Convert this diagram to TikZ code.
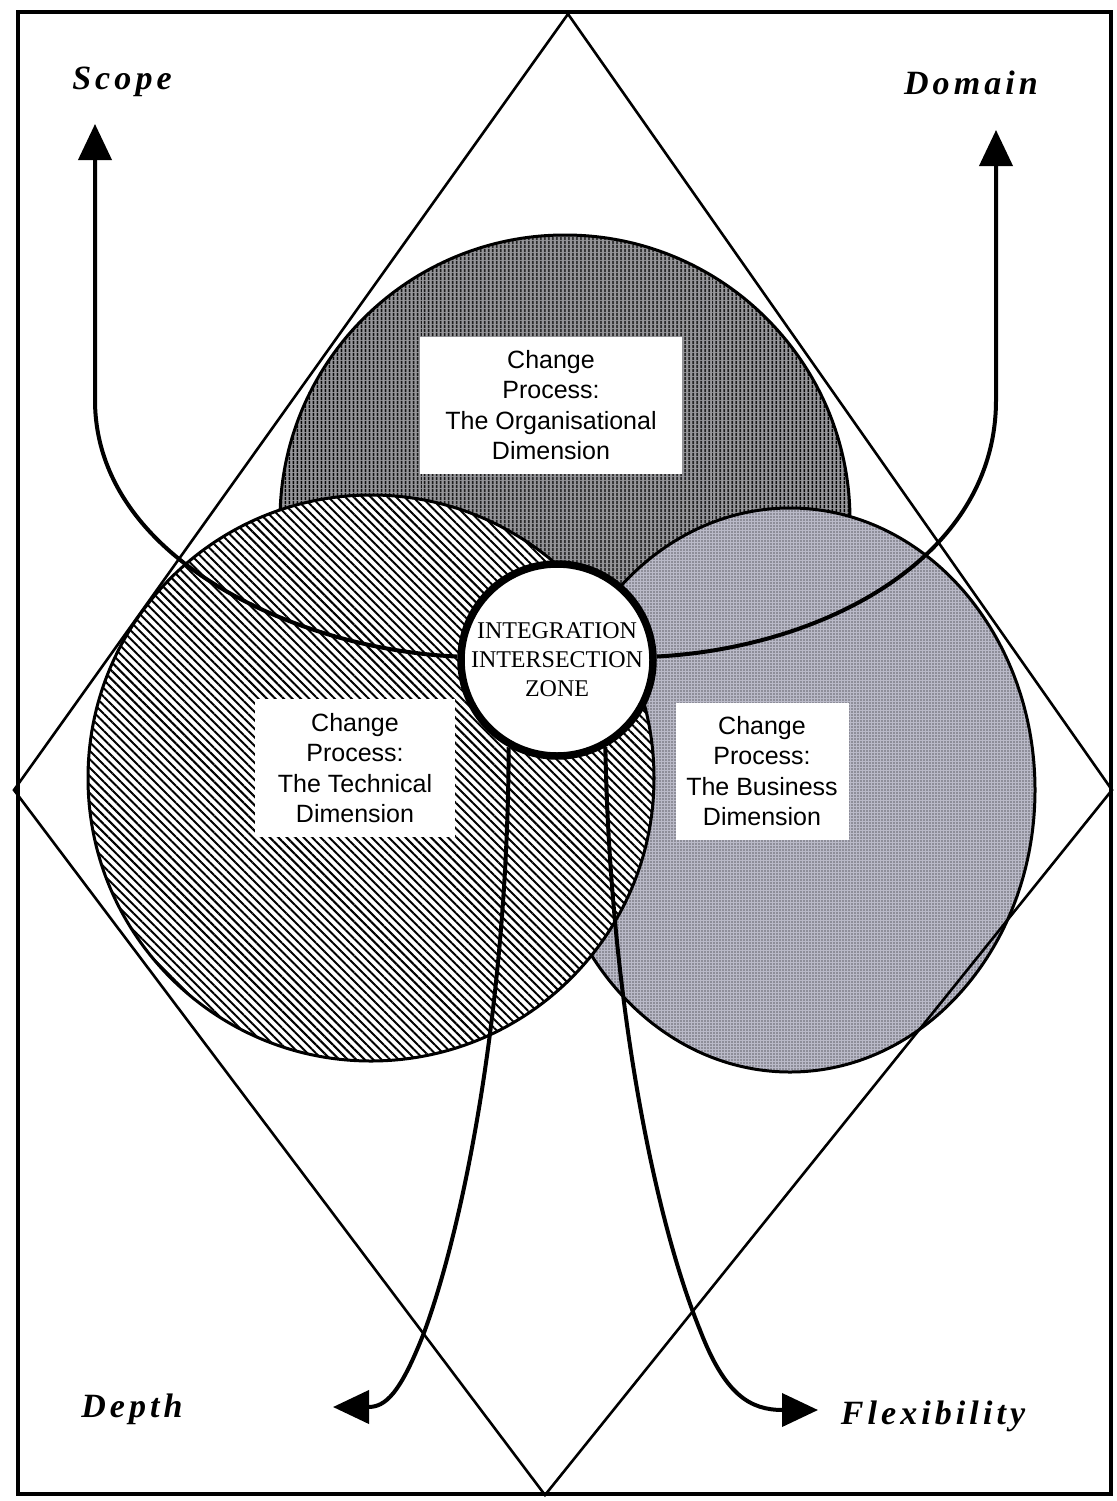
\documentclass[tikz,border=0pt]{standalone}
\usepackage{fontspec}
\setmainfont{Liberation Serif}
\setsansfont{Liberation Sans}
\newfontfamily\axisfont[LetterSpace=12]{Liberation Serif}
\usetikzlibrary{arrows.meta,patterns.meta}

\definecolor{screen}{RGB}{186,186,200}
\definecolor{orgbase}{RGB}{150,150,154}

\tikzset{
  frame/.style={line width=4pt},
  diamondline/.style={line width=2.6pt, line join=miter},
  ring/.style={line width=3pt},
  orgfill/.style={preaction={fill=orgbase},
    pattern={Lines[angle=90,distance=4pt,line width=2pt]}},
  techfill/.style={preaction={fill=white},
    pattern={Lines[angle=-45,distance=6pt,line width=2pt]}},
  busfill/.style={preaction={fill=screen},
    pattern={Dots[distance=3pt,radius=0.65pt]}},
  labelbox/.style={fill=white, inner sep=0pt, align=center,
    font=\sffamily\fontsize{25}{30.5}\selectfont},
  axislabel/.style={anchor=base, inner sep=0pt,
    font=\axisfont\bfseries\itshape\fontsize{34}{38}\selectfont},
  flow/.style={line width=4pt, -{Triangle[length=36pt,width=33pt]}},
  zone/.style={circle, draw, line width=7.5pt, fill=white, minimum size=192pt,
    inner sep=0pt, align=center, font=\fontsize{24}{29}\selectfont}
}

\begin{document}
\begin{tikzpicture}[x=1pt,y=-1pt]
\useasboundingbox (0,0) rectangle (1116,1501);

% outer frame
\draw[frame] (18,12) rectangle (1111,1494);

% the three overlapping dimensions
\path[orgfill] (565,520) circle[radius=285];
\draw[ring] (565,520) circle[radius=285];
\path[busfill] (790,790) ellipse[x radius=245, y radius=282];
\draw[ring] (790,790) ellipse[x radius=245, y radius=282];
\path[techfill] (371,778) circle[radius=283];
\draw[ring] (371,778) circle[radius=283];

% diamond
\draw[diamondline] (568,14) -- (1112,790) -- (545,1495) -- (14,790) -- cycle;

% dimension labels
\node[labelbox, minimum width=262pt, minimum height=137pt] (org) at (551,405)
  {Change\\Process:\\The Organisational\\Dimension};
\node[labelbox, minimum width=200pt, minimum height=138pt] (tech) at (355,768)
  {Change\\Process:\\The Technical\\Dimension};
\node[labelbox, minimum width=173pt, minimum height=137pt] (bus) at (762,771)
  {Change\\Process:\\The Business\\Dimension};

% central zone
\node[zone] (izone) at (557,660) {INTEGRATION\\INTERSECTION\\ZONE};

% axis labels
\node[axislabel] (scope) at (122,90) {Scope};
\node[axislabel] (domain) at (971,95) {Domain};
\node[axislabel] (depth) at (132,1417) {Depth};
\node[axislabel] (flex) at (933,1424) {Flexibility};

% flows out of the zone
\coordinate (scopetip) at (95,124);
\coordinate (domaintip) at (996,130);
\coordinate (depthtip) at (333,1407);
\coordinate (flextip) at (818,1410);

\draw[flow] (izone.178) .. controls (300,650) and (95,560) .. (95,400) -- (scopetip);
\draw[flow] (izone.2) .. controls (820,648) and (996,560) .. (996,400) -- (domaintip);
\draw[flow] (izone.241) .. controls (508,1000) and (465,1220) .. (425,1330)
  .. controls (400,1395) and (385,1407) .. (depthtip);
\draw[flow] (izone.299) .. controls (610,1000) and (655,1220) .. (700,1330)
  .. controls (725,1395) and (750,1410) .. (flextip);
\end{tikzpicture}
\end{document}
